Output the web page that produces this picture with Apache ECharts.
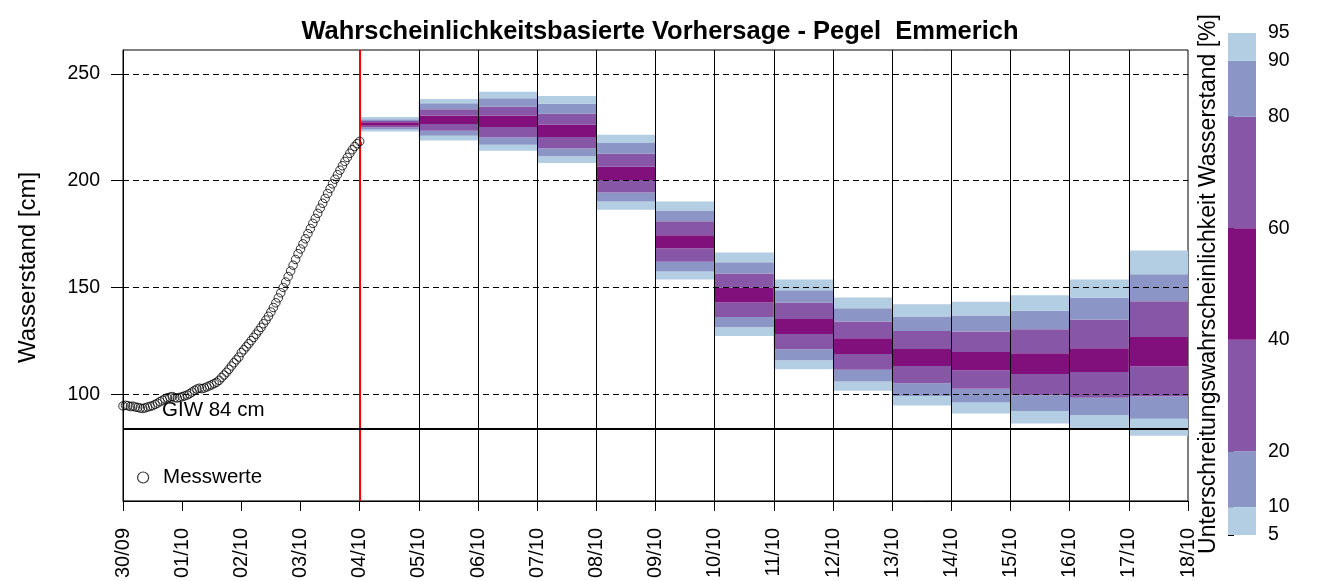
<!DOCTYPE html>
<html>
<head>
<meta charset="utf-8">
<script src="https://cdn.jsdelivr.net/npm/echarts@6/dist/echarts.min.js"></script>
<style>html,body{margin:0;padding:0;background:#fff}#c{width:1332px;height:581px}</style>
</head>
<body>
<div id="c"></div>
<script>
// ---- data ----
const xLabels = ['30/09','01/10','02/10','03/10','04/10','05/10','06/10','07/10','08/10','09/10','10/10','11/10','12/10','13/10','14/10','15/10','16/10','17/10','18/10'];
const yTicks = [100, 150, 200, 250];
// forecast days start at index 4 (04/10)
const forecastStart = 4;
const p5  = [223.0, 218.8, 214.0, 208.3, 186.4, 153.7, 127.2, 111.7, 101.6, 94.7, 91.0, 86.3, 83.3, 80.5];
const p10 = [224.0, 221.0, 216.8, 211.4, 190.3, 157.5, 131.3, 115.9, 105.9, 99.2, 96.1, 92.1, 90.2, 88.5];
const p20 = [224.9, 223.4, 220.2, 215.2, 194.5, 162.0, 136.1, 121.0, 111.4, 105.1, 102.5, 99.5, 98.3, 98.9];
const p40 = [225.7, 226.5, 225.1, 220.4, 200.3, 168.4, 143.0, 128.2, 118.8, 113.2, 111.2, 109.5, 110.4, 113.1];
const p60 = [227.4, 230.5, 230.5, 226.2, 206.5, 174.4, 149.8, 135.2, 126.2, 121.2, 119.8, 119.2, 121.5, 126.8];
const p80 = [228.0, 233.5, 234.7, 231.4, 212.6, 181.0, 156.5, 143.0, 134.0, 129.6, 129.4, 130.4, 135.0, 143.5];
const p90 = [228.8, 236.3, 238.6, 236.0, 217.6, 186.0, 161.8, 148.7, 140.2, 136.4, 136.9, 139.1, 145.2, 156.2];
const p95 = [229.8, 238.3, 241.6, 239.7, 221.5, 190.2, 166.4, 153.7, 145.3, 142.1, 143.3, 146.3, 153.7, 167.3];
// hourly measured water levels from 30/09 00:00 to 04/10 00:00
const obsValues = [
  94.5, 94.8, 94.6, 94.2, 94.4, 94.0, 93.8, 93.5, 93.3, 93.6, 94.0, 94.3,
  94.6, 95.2, 95.8, 96.5, 97.2, 97.8, 98.3, 98.6, 98.9, 98.4, 98.2, 98.5,
  98.8, 99.2, 99.6, 100.2, 101.0, 101.8, 102.4, 102.8, 102.6, 102.9, 103.4, 103.9,
  104.4, 105.0, 105.6, 106.5, 107.8, 109.0, 110.3, 111.7, 113.2, 114.7, 116.1, 117.4,
  119.5, 120.8, 122.2, 123.6, 125.1, 126.6, 128.1, 129.7, 131.3, 133.0, 134.7, 136.5,
  138.5, 140.6, 142.8, 145.1, 147.5, 150.0, 152.5, 155.1, 157.7, 160.4, 163.1, 165.8,
  168.0, 170.4, 172.8, 175.2, 177.6, 180.0, 182.3, 184.7, 187.1, 189.4, 191.7, 194.0,
  196.3, 198.5, 200.7, 202.8, 204.9, 207.0, 209.0, 210.9, 212.8, 214.5, 216.0, 217.3,
  218.4
];
const giw = 84;
const cbBreaks = [5, 10, 20, 40, 60, 80, 90, 95];
const bandColors = ['#b3cde3', '#8c96c6', '#8856a7', '#810f7c', '#8856a7', '#8c96c6', '#b3cde3'];

// ---- build ----
const boxData = p5.map((v, i) => [forecastStart + i, p5[i], p10[i], p20[i], p40[i], p60[i], p80[i], p90[i], p95[i]]);
const obsData = obsValues.map((v, i) => [i / 24, v]);
const cbData = cbBreaks.slice(0, -1).map((b, i) => [b, cbBreaks[i + 1], i]);
const dayLines = [];
for (let d = forecastStart + 1; d < xLabels.length - 1; d++) dayLines.push({ xAxis: d });

const FONT = 'Liberation Sans, Arial, sans-serif';
const chart = echarts.init(document.getElementById('c'));
chart.setOption({
  animation: false,
  title: {
    text: 'Wahrscheinlichkeitsbasierte Vorhersage - Pegel  Emmerich',
    left: 655, top: 14, textAlign: 'center',
    textStyle: { fontFamily: FONT, fontSize: 25.5, fontWeight: 'bold', color: '#000' }
  },
  legend: {
    left: 132, top: 462, itemWidth: 30, itemHeight: 11, itemGap: 12,
    textStyle: { fontFamily: FONT, fontSize: 20.5, color: '#000' },
    data: [{ name: 'Messwerte', icon: 'circle', itemStyle: { color: '#fff', borderColor: '#000', borderWidth: 1.2 } }]
  },
  grid: [
    { left: 123, right: 144, top: 50, bottom: 79, show: true, borderColor: '#000', borderWidth: 1, backgroundColor: 'transparent' },
    { left: 1228, width: 28, top: 33, height: 502 }
  ],
  xAxis: [
    {
      type: 'value', gridIndex: 0, min: 0, max: xLabels.length - 1, interval: 1,
      axisLine: { show: true, lineStyle: { color: '#000', width: 1 } },
      axisTick: { show: true, length: 10, lineStyle: { color: '#000' } },
      axisLabel: { rotate: 90, margin: 27, fontFamily: FONT, fontSize: 20, color: '#000', formatter: v => xLabels[v] },
      splitLine: { show: false }
    },
    { type: 'value', gridIndex: 1, min: 0, max: 1, show: false }
  ],
  yAxis: [
    {
      type: 'value', gridIndex: 0, min: 50, max: 261.2,
      name: 'Wasserstand [cm]', nameLocation: 'middle', nameGap: 83, nameRotate: 90,
      nameTextStyle: { fontFamily: FONT, fontSize: 24, color: '#000', padding: [0, 0, 0, 16] },
      axisLine: { show: true, lineStyle: { color: '#000' } },
      axisTick: { show: true, length: 12, customValues: yTicks, lineStyle: { color: '#000' } },
      axisLabel: { customValues: yTicks, margin: 23, fontFamily: FONT, fontSize: 19.5, color: '#000' },
      splitLine: { show: false }
    },
    {
      type: 'value', gridIndex: 1, min: 5, max: 95, position: 'right',
      axisLine: { show: false },
      axisTick: { show: true, length: 6, customValues: cbBreaks, lineStyle: { color: '#000' } },
      axisLabel: { customValues: cbBreaks, margin: 12, fontFamily: FONT, fontSize: 19.5, color: '#000' },
      splitLine: { show: false }
    },
    {
      type: 'value', gridIndex: 1, min: 5, max: 95, position: 'left',
      name: 'Unterschreitungswahrscheinlichkeit Wasserstand [%]', nameLocation: 'middle', nameGap: 8, nameRotate: 90,
      nameTextStyle: { fontFamily: FONT, fontSize: 23, color: '#000' },
      axisLine: { show: false }, axisTick: { show: false }, axisLabel: { show: false }, splitLine: { show: false }
    }
  ],
  series: [
    {
      type: 'custom', name: 'Vorhersage', xAxisIndex: 0, yAxisIndex: 0, z: 2, clip: true,
      data: boxData,
      renderItem: function (params, api) {
        const x0 = api.value(0);
        const children = [];
        for (let j = 0; j < 7; j++) {
          const a = api.coord([x0, api.value(1 + j)]);
          const b = api.coord([x0 + 1, api.value(2 + j)]);
          children.push({
            type: 'rect',
            shape: { x: a[0], y: b[1], width: b[0] - a[0], height: a[1] - b[1] },
            style: { fill: bandColors[j] }
          });
        }
        return { type: 'group', children: children };
      }
    },
    {
      type: 'line', name: 'lines', xAxisIndex: 0, yAxisIndex: 0, data: [], z: 4,
      markLine: {
        silent: true, symbol: 'none', animation: false,
        data: [
          ...yTicks.map(v => ({ yAxis: v, lineStyle: { color: '#000', width: 1, type: [6, 4] }, label: { show: false } })),
          ...dayLines.map(d => Object.assign({}, d, { lineStyle: { color: '#000', width: 1, type: 'solid' }, label: { show: false } })),
          { xAxis: forecastStart, lineStyle: { color: '#ff0000', width: 2, type: 'solid' }, label: { show: false } },
          { yAxis: giw, lineStyle: { color: '#000', width: 2, type: 'solid' },
            label: { show: true, position: 'insideStartTop', formatter: 'GIW ' + giw + ' cm', fontFamily: FONT, fontSize: 20.5, color: '#000', distance: [39, 8] } }
        ]
      }
    },
    {
      type: 'scatter', name: 'Messwerte', xAxisIndex: 0, yAxisIndex: 0, z: 6,
      symbol: 'circle', symbolSize: 8.5,
      itemStyle: { color: 'rgba(255,255,255,0)', borderColor: '#000', borderWidth: 1 },
      data: obsData
    },
    {
      type: 'custom', name: 'Farbskala', xAxisIndex: 1, yAxisIndex: 1, z: 2,
      data: cbData,
      renderItem: function (params, api) {
        const a = api.coord([0, api.value(0)]);
        const b = api.coord([1, api.value(1)]);
        return {
          type: 'rect',
          shape: { x: a[0], y: b[1], width: b[0] - a[0], height: a[1] - b[1] },
          style: { fill: bandColors[api.value(2)] }
        };
      }
    }
  ]
});
</script>
</body>
</html>
